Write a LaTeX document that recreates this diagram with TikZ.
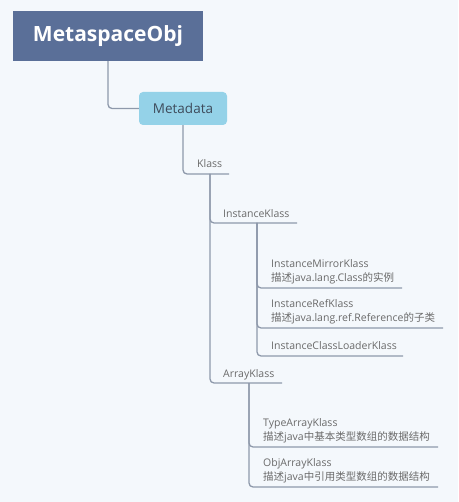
\documentclass[tikz,border=0pt]{standalone}
\usepackage{fontspec}
\setmainfont{Open Sans}
\newfontfamily\cjk{Noto Sans CJK SC}
\definecolor{bgc}{HTML}{F4F8FC}
\definecolor{rootc}{HTML}{5A6F98}
\definecolor{mdc}{HTML}{94D2E8}
\definecolor{mdtext}{HTML}{3E4B5B}
\definecolor{linec}{HTML}{8E99AB}
\definecolor{txtc}{HTML}{6A6A6A}
\begin{document}
\begin{tikzpicture}[x=1pt,y=-1pt,
  conn/.style={draw=linec,line width=1.3pt,rounded corners=4pt},
  leaf/.style={inner sep=0pt,anchor=base west,text=txtc,align=left,
    font=\fontsize{10.5}{14}\selectfont}]
\fill[bgc] (0,0) rectangle (458,502);
\useasboundingbox (0,0) rectangle (458,502);
% main topics
\node[fill=rootc,minimum width=190pt,minimum height=50pt,inner sep=0pt,
  text=white,font=\fontsize{21}{24}\selectfont\bfseries] (root) at (108,36) {MetaspaceObj};
\node[fill=mdc,rounded corners=4pt,minimum width=88pt,minimum height=33pt,inner sep=0pt,
  text=mdtext,font=\fontsize{13.5}{16}\selectfont] (md) at (183,108.5) {Metadata};
\draw[conn] (root.south) |- (md.west);
% Klass
\node[leaf] (klass) at (197,167.5) {Klass};
\coordinate (kU) at (229,174);
\draw[conn] (md.south) |- (kU);
\coordinate (kV) at (210,174);
% InstanceKlass
\node[leaf] (ik) at (223,217.5) {InstanceKlass};
\coordinate (ikU) at (297,223);
\draw[conn] (kV) |- (ikU);
% ArrayKlass
\node[leaf] (ak) at (223,377.5) {ArrayKlass};
\coordinate (akU) at (282,383);
\draw[conn] (kV) |- (akU);
% InstanceKlass children
\coordinate (ikV) at (257,223);
\node[leaf] (imk) at (271,281.5) {InstanceMirrorKlass\\{\cjk 描述}java.lang.Class{\cjk 的实例}};
\coordinate (imkU) at (402,288);
\draw[conn] (ikV) |- (imkU);
\node[leaf] (irk) at (271,321.5) {InstanceRefKlass\\{\cjk 描述}java.lang.ref.Reference{\cjk 的子类}};
\coordinate (irkU) at (443,328);
\draw[conn] (ikV) |- (irkU);
\node[leaf] (iclk) at (271,349.5) {InstanceClassLoaderKlass};
\coordinate (iclkU) at (403,356);
\draw[conn] (ikV) |- (iclkU);
% ArrayKlass children
\coordinate (akV) at (249,383);
\node[leaf] (tak) at (263,440.5) {TypeArrayKlass\\{\cjk 描述}java{\cjk 中基本类型数组的数据结构}};
\coordinate (takU) at (438,447);
\draw[conn] (akV) |- (takU);
\node[leaf] (oak) at (263,480.5) {ObjArrayKlass\\{\cjk 描述}java{\cjk 中引用类型数组的数据结构}};
\coordinate (oakU) at (438,487);
\draw[conn] (akV) |- (oakU);
\end{tikzpicture}
\end{document}
